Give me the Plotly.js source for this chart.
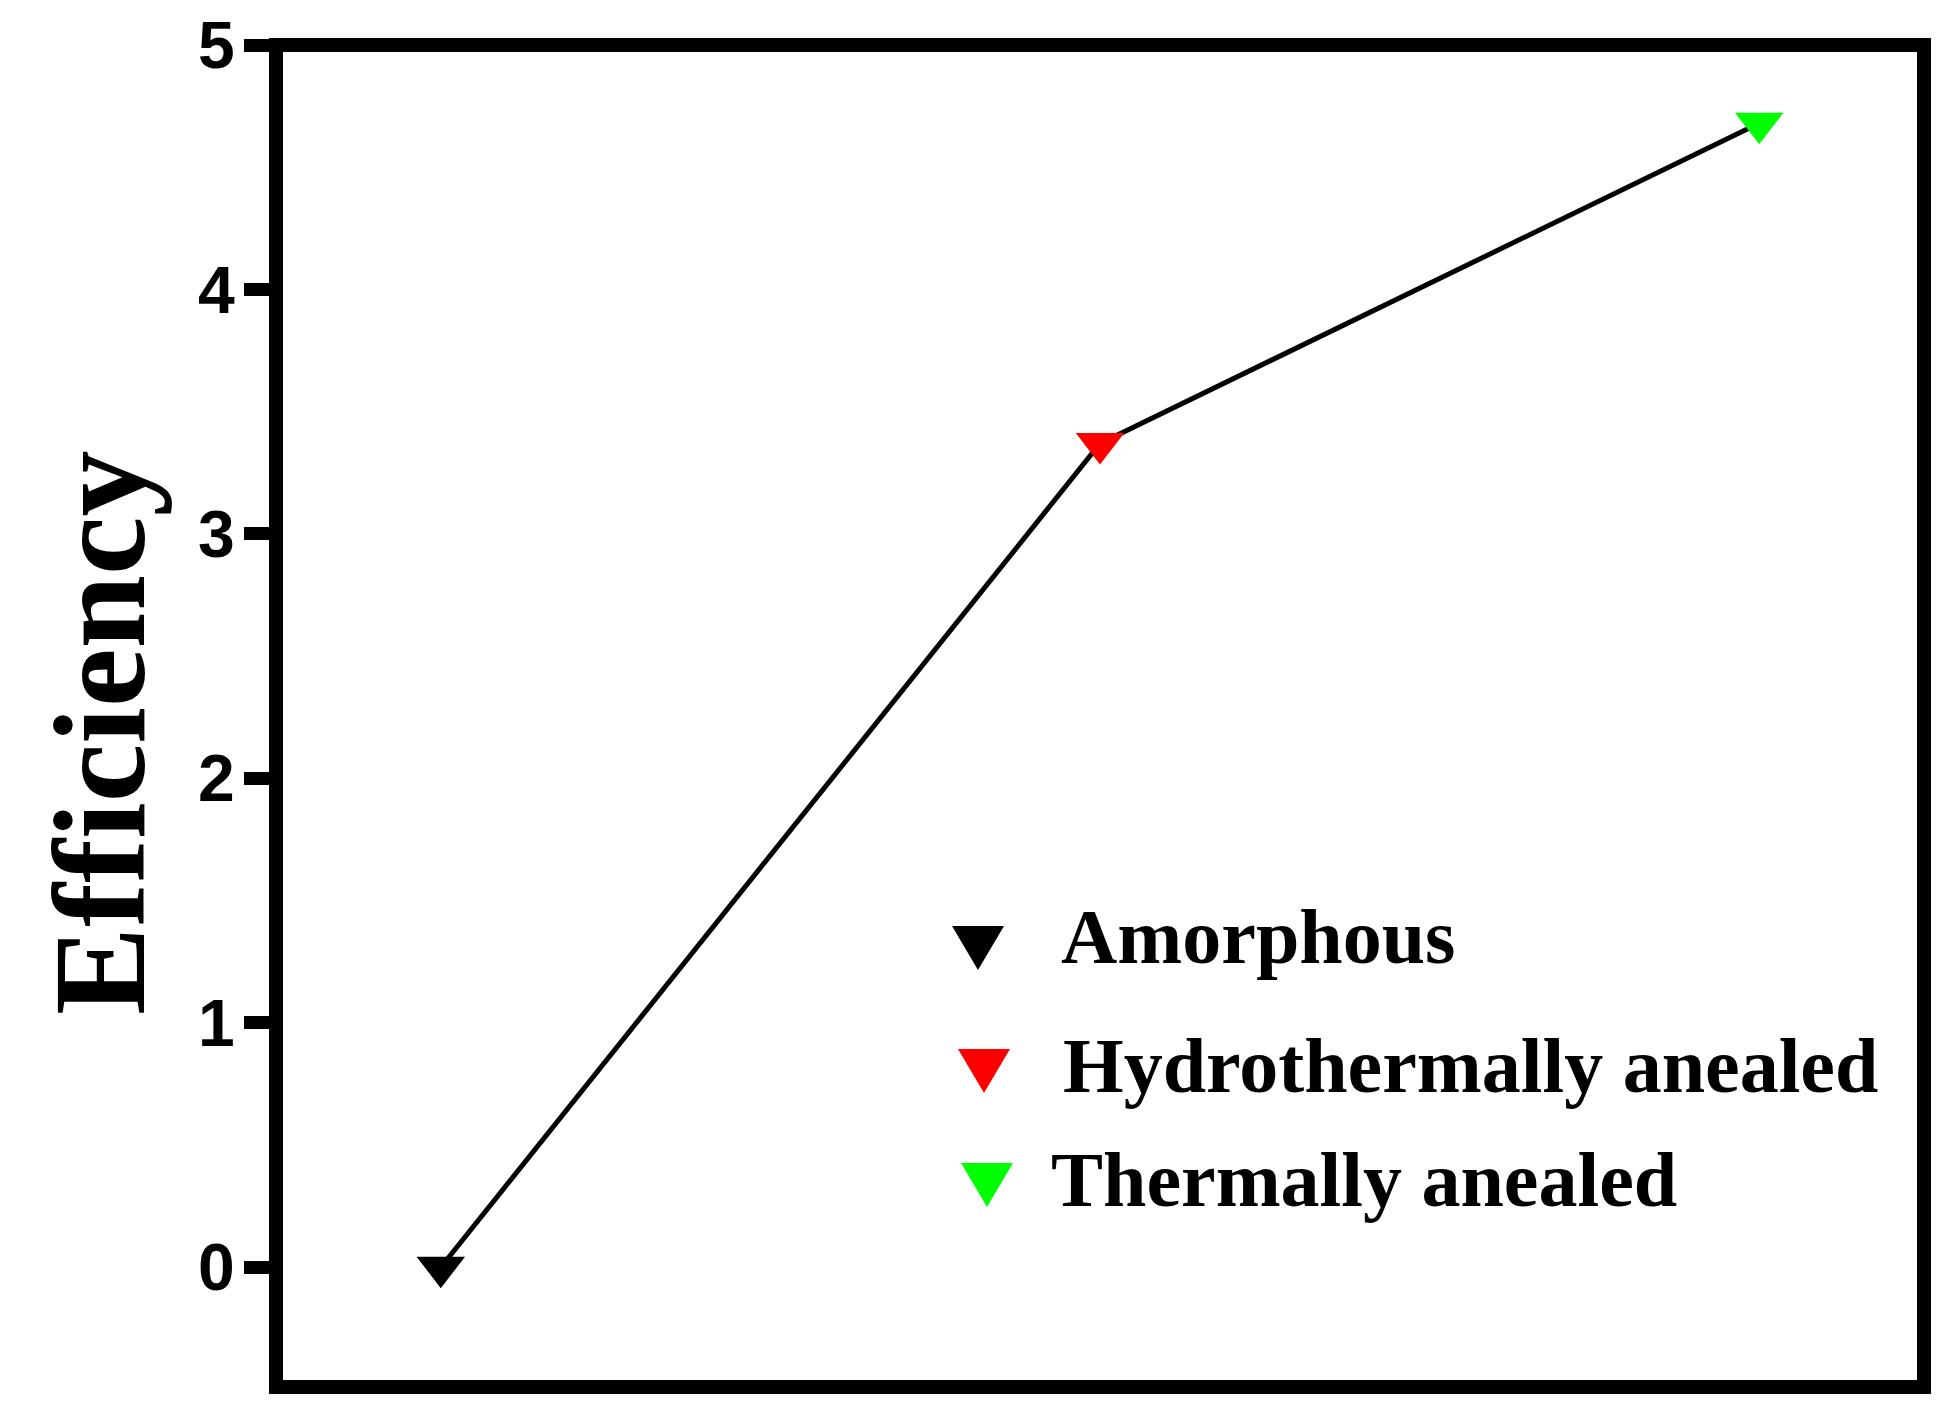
<!DOCTYPE html>
<html>
<head>
<meta charset="utf-8">
<script src="https://cdn.plot.ly/plotly-3.0.1.min.js"></script>
<style>
html,body{margin:0;padding:0;background:#fff;}
#chart{width:1949px;height:1412px;}
</style>
</head>
<body>
<div id="chart"></div>
<script>
// ---- data ----
const categories = ['Amorphous', 'Hydrothermally anealed', 'Thermally anealed'];
const efficiency = [0, 3.37, 4.68];
const markerColors = ['#000000', '#ff0000', '#00ff00'];
const yTickValues = [0, 1, 2, 3, 4, 5];
const yTitle = 'Efficiency';

// ---- layout geometry ----
const W = 1949, H = 1412;
const M = {l: 276, r: 25, t: 45, b: 25};
const plotW = W - M.l - M.r, plotH = H - M.t - M.b;
const px2paperX = p => (p - M.l) / plotW;
const px2paperY = p => (H - M.b - p) / plotH;

const trace = {
  x: categories,
  y: efficiency,
  type: 'scatter',
  mode: 'lines+markers',
  line: {color: '#000000', width: 5},
  marker: {symbol: 'triangle-down', size: 42, color: markerColors, line: {width: 0}},
  showlegend: false,
  cliponaxis: false,
  hoverinfo: 'x+y'
};

// custom legend (large symbols, serif bold text)
const legendKeyX = [978, 984, 987];
const legendKeyY = [948, 1071, 1185];
const legendTextX = [1060, 1062, 1050];
const legendTextY = [936, 1065, 1179];
const shapes = [{
  type: 'rect', xref: 'paper', yref: 'paper', x0: 0, x1: 1, y0: 0, y1: 1,
  line: {color: '#000000', width: 14}, fillcolor: 'rgba(0,0,0,0)', layer: 'above'
}];
const annotations = [{
  text: yTitle, xref: 'paper', yref: 'paper',
  x: px2paperX(100), y: px2paperY(733), xanchor: 'center', yanchor: 'middle',
  textangle: -90, showarrow: false, borderpad: 0,
  font: {family: 'Liberation Serif, Times New Roman, serif', size: 132, weight: 700, color: '#000000'}
}];
categories.forEach((name, i) => {
  shapes.push({
    type: 'path', xref: 'paper', yref: 'paper',
    xsizemode: 'pixel', ysizemode: 'pixel',
    xanchor: px2paperX(legendKeyX[i]), yanchor: px2paperY(legendKeyY[i]),
    path: 'M-26,22 L26,22 L0,-22 Z',
    fillcolor: markerColors[i], line: {width: 0}
  });
  annotations.push({
    text: name, xref: 'paper', yref: 'paper',
    x: px2paperX(legendTextX[i]), y: px2paperY(legendTextY[i]),
    xanchor: 'left', yanchor: 'middle', showarrow: false, borderpad: 0,
    font: {family: 'Liberation Serif, Times New Roman, serif', size: 78, weight: 700, color: '#000000'}
  });
});

const layout = {
  width: W, height: H,
  margin: M,
  paper_bgcolor: '#ffffff', plot_bgcolor: '#ffffff',
  showlegend: false,
  xaxis: {
    type: 'category', range: [-0.25, 2.25],
    showticklabels: false, ticks: '', showgrid: false, zeroline: false, showline: false
  },
  yaxis: {
    range: [-0.49, 5], tickvals: yTickValues, ticktext: yTickValues.map(String),
    ticks: 'outside', ticklen: 31, tickwidth: 13, tickcolor: '#000000',
    ticklabelstandoff: -4,
    showgrid: false, zeroline: false, showline: false,
    tickfont: {family: 'Liberation Sans, Arial, sans-serif', size: 66, weight: 700, color: '#000000'}
  },
  shapes: shapes,
  annotations: annotations
};

Plotly.newPlot('chart', [trace], layout, {displayModeBar: false, staticPlot: true});
</script>
</body>
</html>
